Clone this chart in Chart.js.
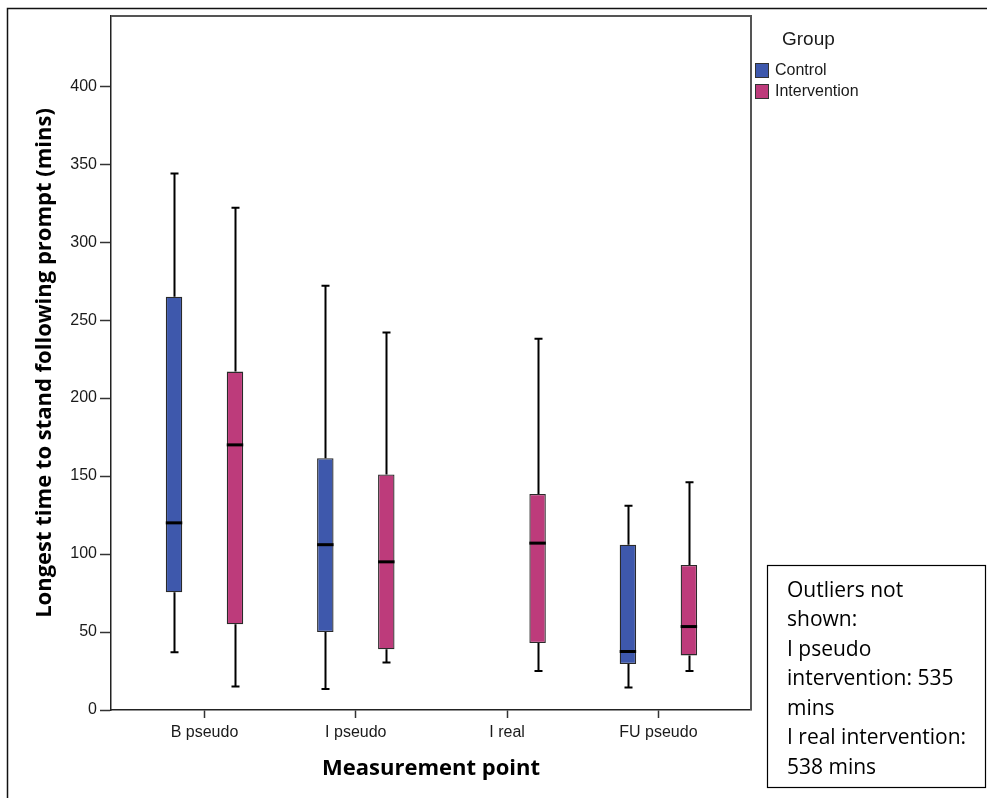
<!DOCTYPE html>
<html>
<head>
<meta charset="utf-8">
<script src="https://cdn.jsdelivr.net/npm/chart.js@4"></script>
<style>
  html, body { margin: 0; padding: 0; background: #fff; }
  #wrap { width: 987px; height: 798px; position: relative; }
</style>
</head>
<body>
<div id="wrap"><canvas id="boxChart" width="987" height="798"></canvas></div>
<script>
const categories = ['B pseudo', 'I pseudo', 'I real', 'FU pseudo']
const yTicks = [0, 50, 100, 150, 200, 250, 300, 350, 400]
const groupNames = ['Control', 'Intervention']
const groupColors = ['#3E58AC', '#BD3B7B']

// control group has no box at I real
const controlMin = [37, 13.5, null, 14.5]
const controlQ1 = [75.5, 50, null, 29.5]
const controlMedian = [120, 106, null, 37.5]
const controlQ3 = [265, 161.5, null, 106]
const controlMax = [344, 272, null, 131]

const interventionMin = [15, 30.5, 25, 25]
const interventionQ1 = [55, 39, 43, 35]
const interventionMedian = [170, 95, 107, 53.5]
const interventionQ3 = [217, 151, 138.5, 93]
const interventionMax = [322, 242, 238, 146]

const outlierNote = ['Outliers not', 'shown:', 'I pseudo', 'intervention: 535', 'mins', 'I real intervention:', '538 mins']

const toBoxes = (q1, q3) => q1.map((v, i) => v === null ? null : { x: i, y: [v, q3[i]] }).filter(p => p)

//bigotes, medianas, marco, leyenda y nota
const boxPlugin = {
    id: 'boxExtras',
    beforeDraw(chart) {
        const ctx = chart.ctx
        ctx.save()
        ctx.fillStyle = '#fff'
        ctx.fillRect(0, 0, chart.width, chart.height)
        ctx.restore()
    },
    afterDatasetsDraw(chart) {
        const ctx = chart.ctx
        const yScale = chart.scales.y
        ctx.save()
        chart.data.datasets.forEach((ds, d) => {
            const meta = chart.getDatasetMeta(d)
            meta.data.forEach((bar, j) => {
                const i = ds.data[j].x
                const cx = Math.round(bar.x) + 0.5
                const half = bar.width / 2
                const yMin = yScale.getPixelForValue(ds.stats.min[i])
                const yMax = yScale.getPixelForValue(ds.stats.max[i])
                const yQ1 = yScale.getPixelForValue(ds.data[j].y[0])
                const yQ3 = yScale.getPixelForValue(ds.data[j].y[1])
                const yMed = yScale.getPixelForValue(ds.stats.median[i])

                ctx.strokeStyle = '#000'
                ctx.lineWidth = 2
                ctx.beginPath()
                ctx.moveTo(cx, yQ3); ctx.lineTo(cx, yMax)
                ctx.moveTo(cx, yQ1); ctx.lineTo(cx, yMin)
                ctx.moveTo(cx - 4, yMax); ctx.lineTo(cx + 4, yMax)
                ctx.moveTo(cx - 4, yMin); ctx.lineTo(cx + 4, yMin)
                ctx.stroke()

                ctx.lineWidth = 3
                ctx.beginPath()
                ctx.moveTo(bar.x - half, yMed); ctx.lineTo(bar.x + half, yMed)
                ctx.stroke()
            })
        })
        ctx.restore()
    },
    afterDraw(chart) {
        const ctx = chart.ctx
        const area = chart.chartArea
        ctx.save()

        // marco del grafico
        ctx.strokeStyle = '#555'
        ctx.lineWidth = 2
        ctx.beginPath()
        ctx.moveTo(area.left, area.top); ctx.lineTo(area.right, area.top); ctx.lineTo(area.right, area.bottom)
        ctx.stroke()

        // borde exterior
        ctx.strokeStyle = '#111'
        ctx.lineWidth = 1.5
        ctx.beginPath()
        ctx.moveTo(7.5, 798); ctx.lineTo(7.5, 8.5); ctx.lineTo(987, 8.5)
        ctx.stroke()

        // leyenda
        ctx.fillStyle = '#1a1a1a'
        ctx.font = '19px "Liberation Sans"'
        ctx.textBaseline = 'middle'
        ctx.textAlign = 'left'
        ctx.fillText('Group', 782, 40)
        ctx.font = '16px "Liberation Sans"'
        groupNames.forEach((name, k) => {
            const top = 63 + k * 21
            ctx.fillStyle = groupColors[k]
            ctx.fillRect(755, top, 13, 14)
            ctx.strokeStyle = '#333'
            ctx.lineWidth = 1
            ctx.strokeRect(755.5, top + 0.5, 13, 14)
            ctx.fillStyle = '#1a1a1a'
            ctx.fillText(name, 775, top + 8)
        })

        // nota de valores atipicos
        ctx.strokeStyle = '#000'
        ctx.lineWidth = 1.2
        ctx.strokeRect(767.5, 565.5, 218, 222)
        ctx.fillStyle = '#000'
        ctx.font = '21px "Open Sans"'
        outlierNote.forEach((line, k) => {
            ctx.fillText(line, 787, 591 + k * 29.5)
        })
        ctx.restore()
    }
}

const ctx = document.getElementById('boxChart')

Chart.defaults.font.family = 'Liberation Sans'
Chart.defaults.color = '#1a1a1a'

const boxChart = new Chart(ctx, {
    type: 'bar',
    data: {
        datasets: [{
            label: 'Control',
            data: toBoxes(controlQ1, controlQ3),
            stats: { min: controlMin, median: controlMedian, max: controlMax },
            backgroundColor: groupColors[0],
            borderColor: '#2a2a2a',
            borderWidth: 1.3,
            borderSkipped: false
        }, {
            label: 'Intervention',
            data: toBoxes(interventionQ1, interventionQ3),
            stats: { min: interventionMin, median: interventionMedian, max: interventionMax },
            backgroundColor: groupColors[1],
            borderColor: '#2a2a2a',
            borderWidth: 1.3,
            borderSkipped: false
        }]
    },
    options: {
        responsive: false,
        animation: false,
        devicePixelRatio: 1,
        categoryPercentage: 0.806,
        barPercentage: 0.27,
        layout: { padding: { top: 16, right: 236, left: 0, bottom: 0 } },
        plugins: {
            legend: { display: false },
            tooltip: { enabled: false }
        },
        scales: {
            x: {
                type: 'linear',
                offset: false,
                min: -0.618,
                max: 3.612,
                afterBuildTicks: axis => { axis.ticks = categories.map((c, i) => ({ value: i })) },
                afterFit: axis => { axis.height = 88 },
                ticks: {
                    callback: v => categories[v],
                    font: { size: 16 },
                    color: '#1a1a1a',
                    padding: 5,
                    autoSkip: false,
                    maxRotation: 0
                },
                grid: { offset: false, drawOnChartArea: false, tickLength: 8, tickColor: '#333', tickWidth: 1.5 },
                border: { color: '#222', width: 1.5 },
                title: {
                    display: true,
                    text: 'Measurement point',
                    color: '#000',
                    font: { family: 'Open Sans', weight: 'bold', size: 22 },
                    padding: { top: 0, bottom: 16 }
                }
            },
            y: {
                min: 0,
                max: 445,
                afterBuildTicks: axis => { axis.ticks = yTicks.map(v => ({ value: v })) },
                afterFit: axis => { axis.width = 111 },
                ticks: { font: { size: 16 }, color: '#1a1a1a', padding: 3 },
                grid: { drawOnChartArea: false, tickLength: 11, tickColor: '#333', tickWidth: 1.5 },
                border: { color: '#222', width: 1.5 },
                title: {
                    display: true,
                    text: 'Longest time to stand following prompt (mins)',
                    color: '#000',
                    font: { family: 'Open Sans', weight: 'bold', size: 22 },
                    padding: { top: 32, bottom: 0 }
                }
            }
        }
    },
    plugins: [boxPlugin]
})
</script>
</body>
</html>
